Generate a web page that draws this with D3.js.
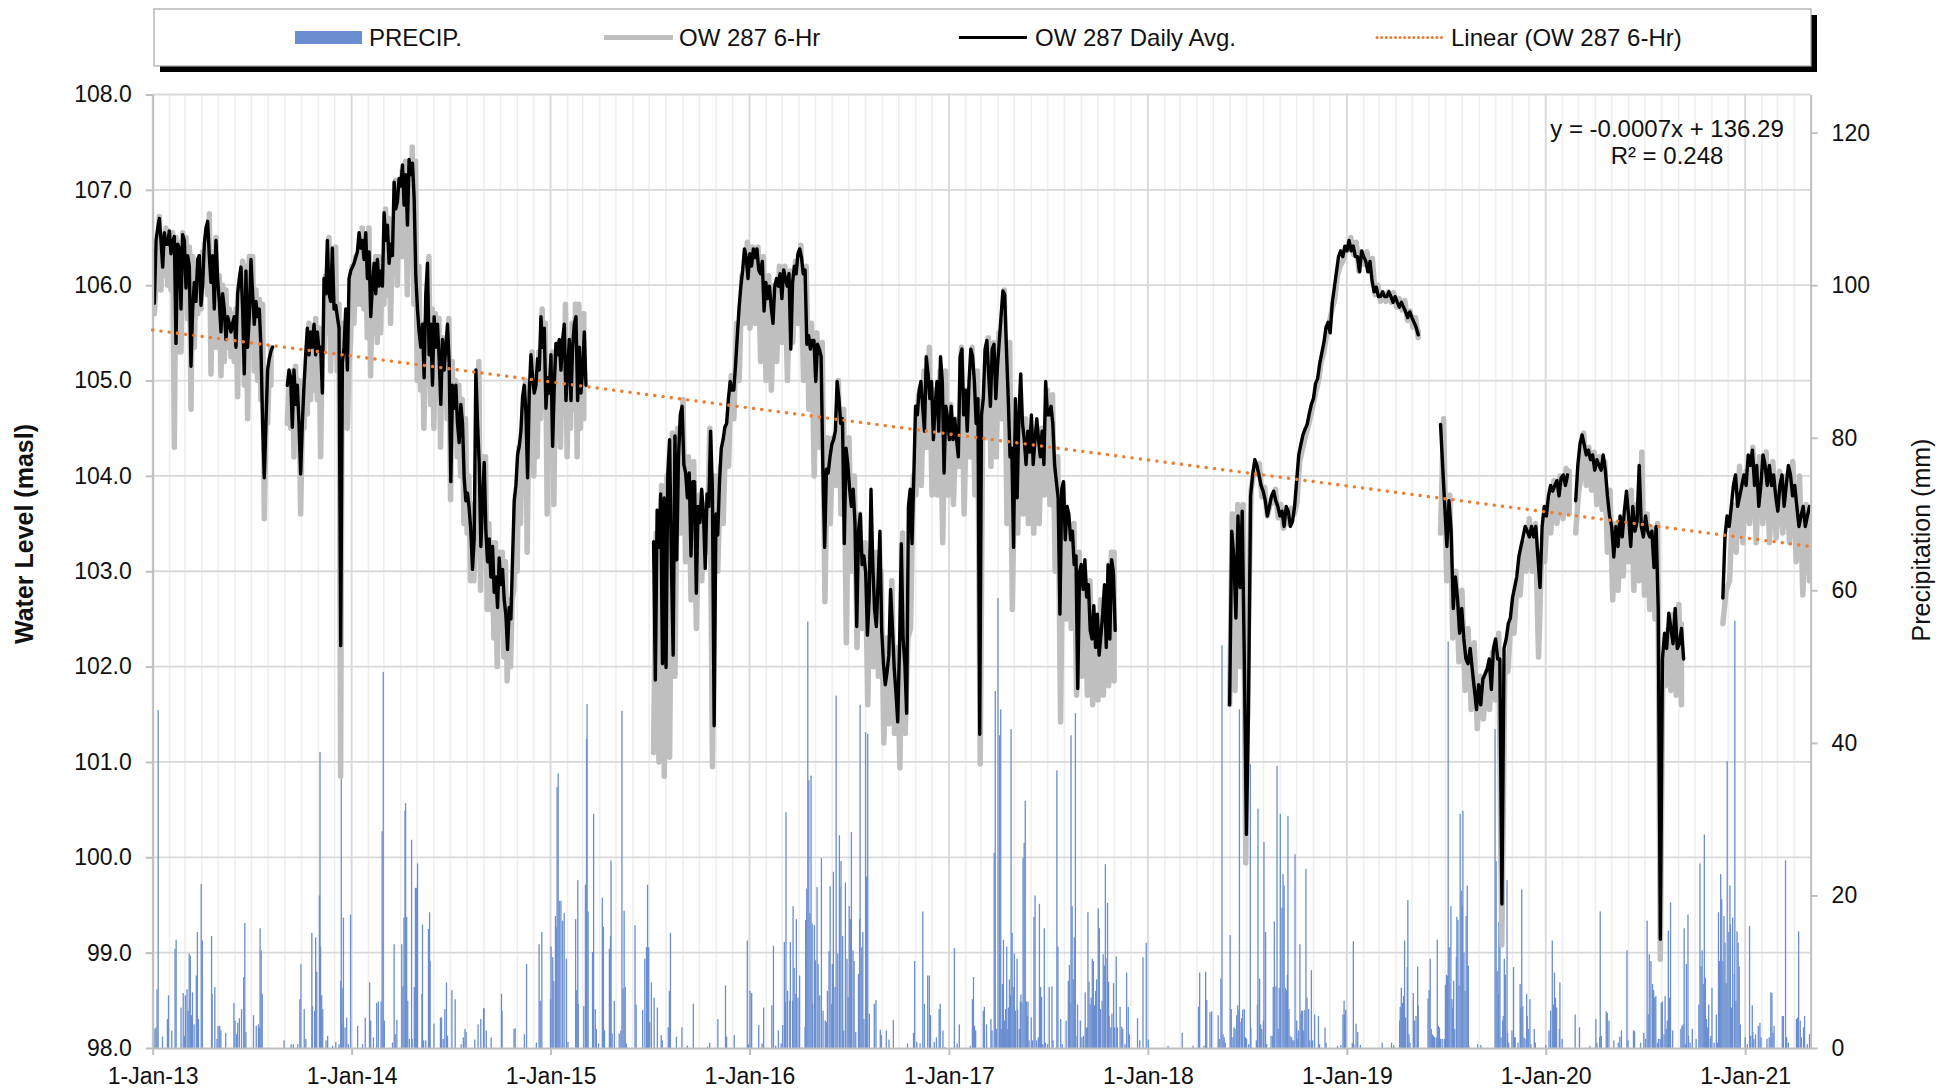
<!DOCTYPE html>
<html>
<head>
<meta charset="utf-8">
<script src="https://cdn.jsdelivr.net/npm/d3@7"></script>
<style>
  body { margin: 0; background: #fff; }
  svg text { font-family: "Liberation Sans", Arial, sans-serif; fill: #111; }
</style>
</head>
<body>
<svg id="chart" width="1950" height="1092"></svg>
<script>
// ---- data ----
// daily average segments: [first day, last day], values evenly spaced between
var daily_spans = [
   ["2013-01-04","2013-08-09"], ["2013-09-05","2015-03-07"], ["2015-07-09","2017-11-02"],
   ["2018-05-31","2019-05-12"], ["2019-06-22","2020-02-10"], ["2020-02-25","2020-09-10"],
   ["2020-11-21","2021-04-29"]
];
var daily_2013 = [105.81,106.47,106.6,106.7,106.47,106.19,106.55,106.43,106.43,106.57,106.33,106.45,106.51,105.39,106.43,106.39,105.75,106.53,106.47,105.97,
   106.31,106.2,105.15,105.75,106.03,105.83,106.27,106.31,105.79,106.0,106.43,106.6,106.67,106.31,106.03,106.31,105.75,106.47,106.07,105.83,
   105.51,105.91,105.75,105.43,105.67,105.6,105.51,105.6,105.67,105.35,105.91,106.07,106.19,105.75,105.07,106.15,105.35,105.67,106.27,105.91,
   105.59,105.83,105.67,105.75,105.35,104.55,103.98,104.55,105.11,105.23,105.31,105.35];
var daily_2013_15 = [104.95,105.11,105.03,104.51,105.11,104.75,104.95,104.55,104.02,104.55,104.95,105.27,105.55,105.27,105.51,105.35,105.59,105.27,105.51,105.31,
   105.35,104.87,106.07,105.91,106.47,105.91,105.83,106.39,105.75,105.79,105.67,105.55,102.22,105.19,105.35,105.75,105.11,106.07,106.15,106.19,
   106.23,106.29,106.35,106.55,106.39,106.47,106.27,106.55,106.07,106.35,105.67,105.99,106.23,105.91,106.27,105.99,106.15,105.99,106.76,106.47,
   106.63,106.23,106.43,106.31,107.08,106.80,106.88,107.12,107.04,107.26,106.84,107.16,106.63,107.32,107.16,107.28,106.92,106.10,105.75,105.51,
   105.35,105.59,105.03,105.91,106.23,105.27,105.59,
   104.95,105.67,105.35,105.59,105.23,104.75,105.43,105.11,105.35,105.59,105.19,103.94,104.95,104.71,104.95,104.55,104.35,104.75,104.55,103.98,
   103.74,103.82,103.66,103.42,103.02,103.34,105.11,104.55,104.14,103.26,103.74,104.14,103.42,103.10,103.34,102.94,103.26,102.78,102.94,102.62,
   103.14,102.86,103.02,102.70,102.54,102.18,102.62,102.50,103.14,103.74,103.90,104.22,104.31,104.47,104.83,104.95,104.67,103.98,104.87,105.27,
   105.03,104.87,104.95,105.23,105.11,105.67,105.35,105.55,104.71,105.03,104.87,105.27,104.31,104.95,105.39,105.27,105.43,105.11,105.43,105.59,
   104.79,105.11,105.43,104.79,105.35,105.59,105.67,104.79,105.35,104.87,105.11,105.51,104.95];
var daily_2015_17 = [103.31,101.86,103.64,103.25,103.81,102.03,103.77,101.99,104.03,104.38,103.07,102.12,104.42,103.12,104.20,104.64,104.73,104.12,104.03,103.77,
   104.03,103.16,103.94,103.94,102.77,103.68,103.51,103.86,103.60,103.03,103.81,103.68,104.47,103.86,101.38,103.60,103.38,103.94,104.29,104.38,
   104.51,104.55,104.81,104.99,104.90,104.90,105.16,105.47,105.77,105.99,106.16,106.38,106.29,106.07,106.33,106.20,106.38,106.29,106.38,106.16,
   106.12,106.25,105.73,106.03,105.86,105.99,105.77,105.60,105.99,106.07,105.99,106.12,105.86,106.16,106.07,105.99,106.12,105.33,106.03,106.20,
   106.12,106.33,106.38,106.29,106.12,106.16,105.38,105.47,105.33,105.42,105.42,104.99,105.38,105.33,105.25,104.07,103.25,104.07,104.03,104.20,
   104.33,104.38,104.47,104.99,104.81,104.55,104.60,103.29,104.29,104.12,103.86,103.68,103.86,103.51,102.42,103.42,103.60,103.07,103.16,102.99,
   102.33,102.73,103.86,103.07,102.60,102.42,102.90,103.42,102.38,102.03,101.81,101.94,102.12,102.81,102.42,101.99,101.73,101.42,102.20,103.29,
   102.29,102.03,101.51,103.68,103.86,103.29,103.99,104.73,104.64,104.90,104.99,104.73,104.47,105.25,105.07,104.81,104.99,104.38,104.73,104.99,
   104.47,105.25,104.99,104.03,104.73,104.60,104.38,104.73,104.38,104.60,104.38,104.20,105.25,105.33,104.64,104.90,104.47,104.99,105.33,105.25,
   104.99,104.55,104.81,101.29,104.64,104.81,105.33,105.42,105.07,104.73,105.33,105.38,104.81,105.16,105.42,105.68,105.94,105.90,105.33,104.81,
   104.20,104.29,103.25,104.81,103.77,104.64,105.07,104.55,104.38,104.12,104.47,104.25,104.64,104.12,104.38,104.60,104.38,104.20,104.47,104.12,
   104.99,104.64,104.64,104.73,104.55,104.12,103.94,103.77,102.55,103.86,103.94,103.33,103.68,103.60,103.33,103.42,103.07,103.16,101.77,102.99,
   103.07,102.81,103.12,102.73,102.86,102.38,102.29,102.64,102.20,102.55,102.12,102.33,102.55,102.86,102.20,103.07,102.29,103.12,102.99,102.38];
var daily_2018_19 = [101.60,103.42,103.15,102.51,103.58,102.83,103.63,102.08,100.24,101.55,103.79,104.01,104.17,104.11,104.01,103.90,103.84,103.74,103.58,103.68,
   103.79,103.84,103.74,103.68,103.58,103.63,103.47,103.68,103.63,103.47,103.52,103.68,103.95,104.22,104.33,104.43,104.49,104.54,104.65,104.75,
   104.81,104.97,105.02,105.18,105.29,105.40,105.56,105.61,105.50,105.82,105.98,106.14,106.30,106.36,106.30,106.41,106.36,106.47,106.36,106.41,
   106.30,106.30,106.14,106.36,106.30,106.25,106.14,106.25,106.04,105.93,105.98,105.88,105.88,105.93,105.88,105.88,105.93,105.88,105.82,105.88,
   105.82,105.77,105.82,105.77,105.72,105.66,105.72,105.66,105.61,105.56,105.48];
var daily_2019_20 = [104.54,104.10,103.68,103.26,103.74,103.42,102.61,102.94,102.72,102.35,102.61,102.29,102.08,102.03,102.19,101.97,101.76,101.55,101.81,101.60,
   101.87,101.92,101.97,102.08,101.76,102.19,102.29,102.08,102.08,99.51,102.19,102.29,102.45,102.51,102.72,102.83,102.94,103.15,103.26,103.36,
   103.47,103.42,103.36,103.47,103.36,103.47,103.15,102.83,103.47,103.68,103.58,103.79,103.90,103.84,103.90,103.95,103.79,103.98,104.01,103.90,104.01];
var daily_2020 = [103.74,104.11,104.33,104.43,104.33,104.22,104.27,104.17,104.22,104.06,104.17,104.11,104.06,104.22,104.06,103.79,103.58,103.47,103.15,103.47,
   103.26,103.58,103.36,103.63,103.84,103.58,103.26,103.68,103.42,103.52,104.11,103.47,103.36,103.58,103.42,103.36,103.42,103.04,103.47,102.61,
   99.14,102.08,102.35,102.19,102.56,102.40,102.24,102.61,102.19,102.24,102.40,102.08];
var daily_2020_21 = [102.72,103.36,103.58,103.47,103.68,103.90,104.01,103.68,103.79,103.90,104.01,103.90,104.22,104.11,104.27,103.90,104.11,103.68,103.90,104.22,
   104.11,103.90,104.11,103.90,104.01,103.79,103.63,103.90,104.01,103.68,103.90,104.11,104.01,103.79,103.90,103.68,103.47,103.58,103.68,103.47,103.58,103.68];

// 6-hr record: [high, low] envelope pairs, evenly spaced over each span
var hr6_spans = [
   ["2013-01-04","2013-08-06"], ["2013-09-05","2015-03-03"], ["2015-07-09","2017-10-31"],
   ["2018-05-31","2019-05-12"], ["2019-06-22","2020-02-13"], ["2020-02-25","2020-09-06"],
   ["2020-11-21","2021-04-29"]
];
var hr6_2013 = [[106.0,105.7],[106.72,106.0],[106.5,105.95],[106.6,106.1],[106.5,106.0],[106.55,105.95],[106.5,104.3],[106.45,105.3],[106.55,105.3],[106.5,105.9],
   [106.4,105.65],[106.3,104.7],[106.1,105.35],[106.3,105.7],[106.35,105.75],[106.5,106.0],[106.75,105.9],[106.35,105.07],[106.5,105.35],[106.1,105.35],
   [106.0,105.05],[105.95,105.2],[105.75,105.35],[105.7,105.25],[105.75,105.2],[106.0,104.83],[106.25,105.45],[106.2,104.95],[106.3,104.6],[106.3,105.5],
   [105.95,105.1],[105.85,105.0],[105.8,104.8],[104.6,103.55],[105.15,104.55],[105.35,104.95]];
var hr6_2013_15 = [[104.95,104.55],[105.1,104.5],[105.15,104.2],[105.0,104.4],[104.6,103.6],[105.0,104.5],[105.6,104.65],[105.55,104.8],[105.65,104.9],[105.55,104.8],
   [105.4,104.2],[106.1,105.3],[106.5,105.5],[105.9,105.1],[106.4,105.3],[105.8,105.1],[105.6,100.85],[105.4,104.7],[105.15,104.5],[106.2,105.4],
   [106.3,105.6],[106.4,105.8],[106.6,105.8],[106.5,105.75],[106.6,105.45],[106.1,105.05],[106.3,105.5],[106.3,105.4],[106.2,105.5],[106.8,105.8],
   [106.7,105.9],[106.5,105.6],[107.1,106.2],[106.9,106.0],[107.2,106.3],[107.3,106.3],[106.7,105.9],[107.45,106.3],[107.3,105.8],[106.2,105.0],
   [105.6,104.9],[105.5,104.5],[106.3,105.0],[105.75,104.75],[105.7,104.5],[105.65,104.8],[105.45,104.3],[105.45,104.75],[105.65,104.6],[105.2,103.75],
   [105.0,104.4],[104.95,104.2],[104.8,104.0],[104.6,103.5],[104.0,103.4],[103.7,102.9],[103.4,102.9],[105.2,104.0],[104.2,102.8],[104.2,103.3],
   [103.5,102.6],[103.3,102.6],[103.3,102.3],[103.2,102.0],[103.2,102.4],[103.1,102.1],[102.7,101.85],[102.7,102.0],[103.8,102.8],[104.3,103.0],
   [104.5,103.5],[105.0,104.0],[104.7,103.2],[105.3,104.2],[105.05,104.0],[105.3,104.2],[105.75,104.6],[105.6,104.7],[105.1,103.6],[105.3,104.3],
   [105.0,103.7],[105.4,104.5],[105.2,104.3],[105.8,104.65],[105.3,104.2],[105.6,104.5],[105.8,104.7],[105.8,104.2],[105.4,104.5],[105.7,104.6]];
var hr6_2015_17 = [[103.4,101.1],[103.9,101.0],[104.0,100.85],[104.45,101.05],[104.5,101.9],[104.8,103.4],[104.2,103.1],[104.15,102.7],[103.8,102.4],[103.7,102.9],
   [104.5,103.2],[104.0,100.95],[104.1,103.0],[104.5,103.5],[105.05,104.1],[105.6,104.6],[106.1,105.0],[106.45,105.6],[106.4,105.55],[106.4,105.6],
   [106.3,105.2],[106.1,105.0],[106.0,104.9],[106.2,105.2],[106.2,105.4],[106.15,105.0],[106.25,105.4],[106.42,105.6],[106.2,105.0],[105.6,104.7],
   [105.5,104.0],[105.4,104.3],[104.4,102.68],[104.4,103.5],[105.0,103.9],[104.7,103.6],[104.4,102.25],[104.0,103.0],[103.6,102.2],[103.3,102.4],
   [103.2,101.6],[103.2,102.0],[103.0,101.9],[102.3,101.2],[102.9,101.4],[102.2,101.3],[103.4,100.94],[102.3,101.3],[104.0,102.4],[104.85,103.8],
   [105.1,103.9],[105.35,104.3],[104.9,103.8],[105.1,103.8],[105.1,103.3],[104.75,103.8],[104.6,103.7],[105.35,104.1],[104.9,103.6],[105.35,104.2],
   [105.1,103.8],[104.8,100.98],[105.45,104.4],[105.4,104.1],[105.5,104.2],[105.95,104.6],[105.4,103.5],[104.4,102.6],[104.7,103.4],[104.6,103.6],
   [104.5,103.5],[104.45,103.4],[104.5,103.5],[104.9,103.8],[104.85,103.7],[104.2,103.0],[103.9,101.42],[103.5,102.5],[103.5,102.4],[103.2,101.7],
   [103.0,101.9],[102.9,101.7],[102.4,101.6],[102.7,101.65],[102.7,101.7],[103.2,101.8],[103.2,101.85]];
var hr6_2018_19 = [[103.6,101.6],[103.7,101.75],[103.7,102.0],[102.5,99.94],[104.05,103.85],[104.13,104.02],[103.88,103.78],[103.7,103.58],[103.86,103.72],[103.7,103.56],
   [103.6,103.45],[103.66,103.5],[103.72,103.6],[104.28,104.15],[104.5,104.4],[104.75,104.62],[105.0,104.88],[105.3,105.2],[105.6,105.48],[105.85,105.75],
   [106.2,106.1],[106.35,106.25],[106.5,106.38],[106.45,106.32],[106.35,106.15],[106.35,106.22],[106.28,106.15],[106.0,105.9],[105.92,105.83],[105.93,105.83],
   [105.92,105.82],[105.86,105.77],[105.84,105.74],[105.73,105.63],[105.66,105.56],[105.52,105.45]];
var hr6_2019_20 = [[104.6,103.4],[103.8,102.9],[103.0,102.3],[102.8,102.05],[102.4,101.75],[102.25,101.55],[101.9,101.35],[101.95,101.45],[102.15,101.55],[102.35,101.65],
   [102.0,99.08],[102.5,101.95],[102.9,102.35],[103.3,102.75],[103.55,103.0],[103.5,103.0],[103.2,102.1],[103.7,103.1],[103.95,103.4],[104.0,103.5],
   [104.08,103.55],[104.05,103.6]];
var hr6_2020 = [[103.8,103.4],[104.45,104.0],[104.3,103.9],[104.25,103.85],[104.2,103.7],[104.15,103.65],[103.85,103.2],[103.5,102.7],[103.35,102.8],[103.65,102.95],
   [103.85,103.1],[103.7,102.8],[104.25,102.9],[103.6,102.75],[103.45,102.6],[103.5,102.5],[102.1,98.93],[102.4,101.8],[102.55,101.75],[102.65,101.7],[102.45,101.6]];
var hr6_2020_21 = [[102.8,102.45],[103.7,102.9],[104.1,103.2],[104.05,103.3],[104.3,103.5],[104.2,103.3],[104.25,103.5],[104.15,103.3],[104.05,103.35],[104.0,103.4],
   [104.15,103.3],[104.0,103.1],[103.7,102.75],[103.65,102.9]];

// precipitation: [days after 1-Jan-13, mm]
var precip = [[4,2.5],[6,2.7],[8,7.7],[10,44.3],[18,1.5],[27,3.8],[29,6.9],[35,2.3],[41,13.0],[43,14.2],[52,5.3],[56,7.2],[58,1.6],[60,6.9],[63,7.7],[65,4.9],[67,12.4],[69,12.1],[71,4.3],[73,7.3],
   [76,3.1],[80,9.5],[82,15.2],[84,3.8],[89,21.5],[91,14.1],[108,14.7],[109,7.1],[114,8.0],[118,1.2],[120,2.9],[123,2.9],[125,2.3],[134,2.0],[149,5.9],[151,3.6],[154,1.8],[156,3.3],[159,3.9],[163,5.1],
   [167,9.3],[169,16.4],[171,2.1],[185,4.3],[190,2.9],[194,3.1],[196,2.6],[197,15.7],[199,12.8],[201,7.1],[241,1.0],[254,0.5],[258,0.5],[266,0.5],[270,6.4],[272,11.0],[278,5.1],[281,1.2],[292,15.1],[293,5.5],
   [297,4.9],[299,14.5],[301,10.0],[306,20.0],[307,38.8],[308,13.3],[310,6.9],[312,5.1],[318,1.0],[321,1.6],[330,0.3],[336,0.8],[342,0.5],[345,8.8],[346,35.7],[347,3.1],[349,7.9],[350,17.1],[353,2.7],[356,4.0],
   [359,0.5],[363,17.5],[376,2.9],[385,0.5],[390,4.0],[398,8.6],[400,3.6],[405,1.4],[411,5.9],[414,6.1],[419,6.1],[421,28.4],[423,49.3],[425,3.6],[440,0.7],[443,13.6],[445,1.8],[448,3.7],[457,13.6],[459,8.1],
   [461,17.1],[463,31.1],[464,32.1],[466,17.2],[468,6.2],[471,1.2],[475,27.3],[476,1.2],[480,8.0],[482,21.0],[484,21.0],[486,24.2],[494,7.1],[495,16.2],[497,1.0],[501,1.0],[506,15.6],[508,17.8],[509,11.4],[516,3.2],
   [528,4.0],[530,4.0],[533,1.2],[536,5.1],[539,8.6],[541,1.6],[549,7.6],[555,6.4],[566,0.5],[570,1.4],[573,2.5],[575,2.1],[591,1.1],[597,3.1],[602,3.8],[607,5.2],[608,5.2],[612,2.3],[621,1.4],[640,7.1],
   [641,4.9],[663,2.5],[665,2.6],[682,1.8],[686,11.0],[704,0.7],[709,13.6],[711,6.2],[714,15.2],[730,6.4],[731,13.3],[734,11.9],[736,8.8],[739,17.3],[741,15.8],[742,34.2],[744,36.0],[746,19.3],
   [749,19.3],[752,16.7],[755,17.7],[759,11.7],[762,0.8],[776,16.9],[778,7.6],[780,22.0],[781,5.8],[791,5.5],[794,21.4],[796,40.5],[797,45.1],[799,17.9],[807,12.6],[809,30.7],[812,5.1],[814,2.5],[818,0.6],[825,19.7],
   [827,15.9],[829,2.3],[838,13.0],[840,14.7],[841,24.6],[843,1.9],[847,6.2],[856,1.9],[859,2.3],[861,44.2],[863,7.8],[865,18.0],[867,8.0],[869,0.6],[885,16.1],[887,5.7],[899,5.0],[903,11.7],[906,13.2],[908,21.4],
   [910,13.2],[912,3.4],[915,8.6],[920,6.6],[926,5.3],[933,1.7],[935,1.0],[946,2.7],[948,7.5],[950,15.1],[961,1.5],[971,2.7],[981,0.3],[992,5.8],[1018,0.2],[1022,0.7],[1037,3.8],[1051,8.2],[1053,1.5],[1067,1.7],
   [1091,14.1],[1093,0.5],[1096,7.5],[1099,7.2],[1112,3.0],[1118,0.6],[1121,5.3],[1136,5.6],[1139,13.4],[1143,0.3],[1148,2.3],[1153,0.6],[1156,3.0],[1159,13.9],[1161,6.0],[1162,30.9],[1165,7.5],[1169,6.2],[1170,13.9],[1174,6.2],
   [1175,18.6],[1177,10.5],[1180,7.1],[1181,16.9],[1184,6.6],[1187,9.5],[1191,0.1],[1197,2.8],[1198,16.8],[1200,20.9],[1202,55.9],[1204,35.1],[1206,17.7],[1208,35.7],[1210,16.3],[1211,5.8],[1214,16.1],[1216,11.5],[1219,21.1],[1221,11.0],
   [1224,6.9],[1227,24.9],[1230,4.9],[1234,3.6],[1236,3.4],[1238,7.5],[1241,12.7],[1243,21.2],[1246,5.8],[1247,11.0],[1249,23.1],[1252,8.0],[1254,46.2],[1257,12.4],[1260,27.9],[1261,21.1],[1263,24.5],[1266,14.7],[1268,2.3],[1271,21.7],
   [1274,11.7],[1276,6.7],[1278,18.6],[1280,16.9],[1282,28.3],[1285,12.8],[1287,11.4],[1290,2.1],[1295,9.7],[1297,16.9],[1298,45.0],[1301,13.2],[1303,15.2],[1305,3.8],[1308,41.4],[1310,22.5],[1312,41.2],[1315,4.5],[1324,5.8],[1327,6.3],
   [1335,2.4],[1337,1.7],[1346,2.3],[1351,1.1],[1359,3.7],[1385,0.6],[1396,2.0],[1398,11.4],[1402,0.8],[1408,0.6],[1413,17.9],[1416,5.8],[1422,9.5],[1425,9.5],[1427,4.3],[1434,0.8],[1438,1.4],[1443,5.1],[1445,5.8],[1450,2.3],
   [1453,0.1],[1471,13.1],[1476,0.6],[1480,3.1],[1500,0.3],
   [1504,6.4],[1506,9.3],[1508,2.9],[1510,2.3],[1524,4.9],[1526,5.4],[1530,3.1],[1538,3.8],[1540,2.3],[1544,25.6],[1546,46.8],[1548,2.5],[1551,59.0],[1554,41.0],[1556,44.4],[1557,2.5],[1559,8.4],[1561,14.2],[1563,3.6],[1565,5.1],
   [1567,13.3],[1568,2.5],[1570,5.3],[1572,9.0],[1574,6.9],[1575,41.8],[1577,15.1],[1579,8.0],[1581,12.4],[1583,4.9],[1586,11.7],[1587,5.0],[1590,2.5],[1592,6.1],[1593,7.0],[1595,6.0],[1597,24.9],[1599,26.9],[1601,32.4],[1603,6.1],
   [1605,4.2],[1606,6.1],[1608,1.0],[1612,4.0],[1614,1.0],[1617,17.2],[1619,20.0],[1622,1.0],[1625,1.4],[1627,18.9],[1629,8.0],[1631,6.7],[1633,0.5],[1636,15.7],[1638,0.7],[1642,0.5],[1645,8.0],[1650,8.1],[1652,1.0],[1659,36.4],
   [1661,13.3],[1666,3.8],[1669,0.5],[1676,3.6],[1680,8.8],[1682,10.9],[1683,5.9],[1685,41.0],[1687,18.6],[1689,9.0],[1691,14.5],[1693,43.9],[1694,1.6],[1697,5.7],[1702,3.6],[1705,1.4],[1708,1.6],[1711,7.3],[1713,2.7],[1715,2.7],
   [1716,17.8],[1718,8.7],[1720,5.7],[1722,6.6],[1724,11.7],[1726,11.4],[1728,5.6],[1730,7.5],[1732,9.0],[1735,18.3],[1737,15.7],[1739,5.1],[1742,6.2],[1744,12.3],[1746,10.8],[1748,24.1],[1749,11.8],[1752,19.0],[1754,8.7],[1755,4.2],
   [1758,2.7],[1760,4.5],[1763,8.5],[1765,2.7],[1768,12.0],[1770,2.7],[1775,5.4],[1778,2.8],[1780,2.5],[1784,0.5],[1787,9.9],[1790,5.4],[1792,1.8],[1807,3.9],[1811,1.0],[1817,11.9],[1823,13.8],[1827,1.1],[1863,0.3],[1889,2.0],
   [1909,0.3],[1919,5.4],[1921,9.9],[1929,0.3],[1932,10.0],[1934,6.3],[1940,4.7],[1943,4.8],[1955,4.3],[1957,1.2],[1960,9.1],[1962,52.8],[1964,1.8],[1966,1.4],[1968,0.7],[1977,14.8],[1979,5.1],[1982,1.4],[1984,2.7],[1986,2.5],
   [1989,4.3],[1991,5.6],[1993,5.0],[1994,44.4],[1995,3.4],[1998,3.9],[2000,5.0],[2003,5.1],[2005,1.4],[2007,1.2],[2011,0.5],[2014,37.2],[2015,2.7],[2025,1.0],[2027,5.7],[2028,31.4],[2031,9.1],[2033,3.1],[2035,2.5],[2038,3.6],
   [2039,27.0],[2042,15.2],[2044,0.5],[2052,1.6],[2055,1.6],[2056,8.0],[2058,16.6],[2061,8.1],[2063,37.0],[2065,2.5],[2067,7.9],[2069,30.7],[2072,18.4],[2074,22.8],[2076,21.3],[2078,7.9],[2080,7.6],[2082,9.6],[2083,30.4],[2085,5.1],
   [2087,1.6],[2090,1.4],[2092,1.0],[2094,1.0],[2096,25.4],[2099,3.6],[2100,1.2],[2102,2.3],[2105,13.6],[2107,4.4],[2108,4.9],[2110,4.9],[2112,2.3],[2114,5.0],[2116,23.5],[2118,6.6],[2121,5.1],[2123,1.0],[2126,10.2],[2128,1.0],
   [2132,4.4],[2139,4.2],[2141,0.5],[2151,2.7],[2153,0.7],[2174,0.3],[2180,0.4],[2184,4.4],[2186,6.2],[2187,4.4],[2189,5.0],[2201,0.7],[2203,14.0],[2204,0.5],[2208,3.2],[2211,2.1],[2216,0.4],
   [2256,0.7],[2273,0.7],[2277,0.4],[2288,3.6],[2289,5.4],[2291,7.9],[2293,5.9],[2295,6.8],[2297,14.1],[2299,4.0],[2302,10.6],[2303,19.4],[2305,1.8],[2307,0.7],[2313,7.2],[2315,3.6],[2318,4.2],[2321,10.7],[2322,5.6],[2340,6.5],
   [2342,7.6],[2344,11.7],[2346,2.5],[2348,1.8],[2350,1.6],[2352,1.4],[2355,1.4],[2357,14.2],[2359,2.9],[2361,2.7],[2363,1.2],[2366,1.2],[2370,1.2],[2372,8.3],[2374,9.6],[2376,9.4],[2377,53.3],[2379,13.2],[2382,18.6],[2384,6.4],
   [2385,5.3],[2387,8.8],[2389,2.5],[2392,11.9],[2393,17.2],[2395,16.8],[2397,8.2],[2399,30.7],[2401,20.6],[2403,18.6],[2404,31.1],[2406,12.5],[2408,7.5],[2410,17.3],[2412,21.3],[2414,10.8],[2415,0.3],[2431,0.5],[2437,0.4],[2463,41.8],
   [2465,24.5],[2467,10.1],[2469,7.1],[2470,16.5],[2472,15.7],[2474,1.4],[2477,3.6],[2478,4.2],[2480,11.7],[2482,9.6],[2485,22.0],[2486,2.0],[2488,0.7],[2494,2.3],[2497,10.6],[2499,1.4],[2500,1.4],[2505,0.7],[2509,8.4],[2510,5.3],
   [2512,20.8],[2514,5.5],[2516,1.4],[2518,1.2],[2521,7.1],[2522,4.2],[2524,2.5],[2527,6.4],[2529,0.5],[2535,2.5],[2537,0.7],[2556,0.4],[2562,2.3],[2565,4.9],[2568,14.1],[2570,5.7],[2572,9.9],[2574,6.6],[2576,5.3],[2581,2.5],
   [2582,8.6],[2586,1.2],[2610,4.4],[2618,2.7],[2637,0.3],[2648,3.8],[2650,0.7],[2655,1.4],[2656,17.9],[2658,1.6],[2667,4.8],[2669,4.6],[2672,3.6],[2681,1.0],[2689,0.7],[2692,1.5],[2695,2.3],[2705,12.8],[2707,1.0],[2717,2.3],
   [2719,2.2],[2730,0.7],[2736,2.0],[2739,1.2],[2742,16.7],[2744,4.4],[2746,12.3],[2749,11.4],[2752,8.4],[2754,7.6],[2756,6.6],[2758,6.8],[2761,0.7],[2763,1.2],[2766,1.2],[2768,5.9],[2770,6.1],[2773,1.8],[2775,6.8],[2777,2.5],
   [2779,3.6],[2781,15.4],[2783,6.6],[2785,19.1],[2789,2.3],[2804,2.5],[2806,2.9],[2808,3.1],[2810,15.7],[2812,0.5],[2814,11.0],[2817,17.5],[2818,1.6],[2821,0.7],[2825,2.5],[2832,1.2],[2837,5.7],[2839,24.2],[2841,10.7],[2843,12.8],
   [2845,8.4],[2847,28.0],[2849,9.2],[2851,3.8],[2853,2.7],[2855,5.7],[2858,1.2],[2859,1.6],[2861,7.9],[2865,0.7],[2869,4.4],[2871,0.7],[2873,17.8],[2875,11.4],[2877,22.8],[2879,19.5],[2881,11.4],[2883,17.3],[2885,13.8],[2887,8.5],
   [2889,37.6],[2892,15.2],[2894,21.3],[2895,16.2],[2897,5.3],[2899,17.1],[2902,9.7],[2903,56.0],[2905,6.2],[2907,15.3],[2909,13.8],[2911,10.7],[2913,3.1],[2922,1.4],[2926,0.5],[2930,16.0],[2932,1.6],[2935,5.6],[2936,2.1],[2938,1.2],
   [2941,1.8],[2946,2.9],[2949,3.3],[2951,1.4],[2962,1.2],[2966,1.4],[2969,7.3],[2971,7.2],[2973,2.0],[2975,2.9],[2990,4.2],[2992,4.2],[2996,24.6],[2998,1.4],[3001,0.7],[3016,3.8],[3018,4.0],[3020,15.3],[3023,3.6],[3025,1.4],
   [3029,2.7],[3031,4.2],[3036,0.5],[3040,1.8]];

// linear trend of the 6-hr record, value at each end of the axis
var trend_ends = [105.53, 103.26];
var trend_label = ["y = -0.0007x + 136.29", "R\u00b2 = 0.248"];
var legend_labels = ["PRECIP.", "OW 287 6-Hr", "OW 287 Daily Avg.", "Linear (OW 287 6-Hr)"];

// ---- drawing ----
var plot = { left: 152.7, right: 1810.6, top: 94.5, bottom: 1048 };
var parse = d3.timeParse("%Y-%m-%d");
var day0 = new Date(2013, 0, 1);
var axis_start = new Date(2013, 0, 1), axis_end = new Date(2021, 4, 1);

var x = d3.scaleTime().domain([axis_start, axis_end]).range([plot.left, plot.right]);
var y = d3.scaleLinear().domain([98, 108]).range([plot.bottom, plot.top]);
var y2 = d3.scaleLinear().domain([0, 125]).range([plot.bottom, plot.top]);

var svg = d3.select("#chart");
svg.append("defs").append("clipPath").attr("id", "plotclip")
   .append("rect").attr("x", plot.left).attr("y", plot.top)
   .attr("width", plot.right - plot.left).attr("height", plot.bottom - plot.top);

// gridlines
var grid = svg.append("g");
grid.selectAll("line.minor").data(d3.timeMonth.range(axis_start, axis_end))
   .enter().append("line").attr("class", "minor")
   .attr("x1", function(d) { return x(d); }).attr("x2", function(d) { return x(d); })
   .attr("y1", plot.top).attr("y2", plot.bottom)
   .attr("stroke", "#efefef").attr("stroke-width", 1.6);
grid.selectAll("line.major").data(d3.timeYear.range(axis_start, axis_end))
   .enter().append("line").attr("class", "major")
   .attr("x1", function(d) { return x(d); }).attr("x2", function(d) { return x(d); })
   .attr("y1", plot.top).attr("y2", plot.bottom)
   .attr("stroke", "#d9d9d9").attr("stroke-width", 1.8);
grid.selectAll("line.hz").data(d3.range(99, 108.5, 1))
   .enter().append("line").attr("class", "hz")
   .attr("x1", plot.left).attr("x2", plot.right)
   .attr("y1", function(d) { return y(d); }).attr("y2", function(d) { return y(d); })
   .attr("stroke", "#d9d9d9").attr("stroke-width", 1.8);

// precipitation bars
svg.append("g").attr("clip-path", "url(#plotclip)")
   .selectAll("rect").data(precip).enter().append("rect")
   .attr("x", function(d) { return x(d3.timeDay.offset(day0, d[0])) - 0.65; })
   .attr("width", 1.3)
   .attr("y", function(d) { return y2(d[1]); })
   .attr("height", function(d) { return y2(0) - y2(d[1]); })
   .attr("fill", "#6a8ed0");

function even_points(span, vals) {
   var t0 = +parse(span[0]), t1 = +parse(span[1]);
   var step = (t1 - t0) / (vals.length - 1);
   return vals.map(function(v, j) { return [new Date(t0 + j * step), v]; });
}
function zigzag_points(span, pairs) {
   var t0 = +parse(span[0]), t1 = +parse(span[1]);
   var step = (t1 - t0) / (pairs.length - 1);
   var pts = [];
   pairs.forEach(function(p, j) {
      pts.push([new Date(t0 + j * step), p[1]]);
      pts.push([new Date(t0 + (j + (j < pairs.length - 1 ? 0.5 : 0)) * step), p[0]]);
   });
   return pts;
}

var line = d3.line().x(function(d) { return x(d[0]); }).y(function(d) { return y(d[1]); });
var hr6_segs = [hr6_2013, hr6_2013_15, hr6_2015_17, hr6_2018_19, hr6_2019_20, hr6_2020, hr6_2020_21];
var daily_segs = [daily_2013, daily_2013_15, daily_2015_17, daily_2018_19, daily_2019_20, daily_2020, daily_2020_21];

var lines = svg.append("g").attr("clip-path", "url(#plotclip)");
hr6_segs.forEach(function(seg, i) {
   lines.append("path").attr("d", line(zigzag_points(hr6_spans[i], seg)))
      .attr("fill", "none").attr("stroke", "#bfbfbf").attr("stroke-width", 5.5)
      .attr("stroke-linejoin", "round").attr("stroke-linecap", "round");
});
daily_segs.forEach(function(seg, i) {
   lines.append("path").attr("d", line(even_points(daily_spans[i], seg)))
      .attr("fill", "none").attr("stroke", "#000").attr("stroke-width", 3.4)
      .attr("stroke-linejoin", "round").attr("stroke-linecap", "round");
});

// axes
var ax_left = svg.append("g").attr("transform", "translate(" + plot.left + ",0)")
   .call(d3.axisLeft(y).tickValues(d3.range(98, 108.5, 1)).tickFormat(d3.format(".1f"))
      .tickSize(7).tickSizeOuter(0).tickPadding(14));
var ax_right = svg.append("g").attr("transform", "translate(" + plot.right + ",0)")
   .call(d3.axisRight(y2).tickValues(d3.range(0, 121, 20)).tickSize(7).tickSizeOuter(0).tickPadding(14));
var ax_bottom = svg.append("g").attr("transform", "translate(0," + plot.bottom + ")")
   .call(d3.axisBottom(x).ticks(d3.timeYear.every(1)).tickFormat(d3.timeFormat("%-d-%b-%y"))
      .tickSize(7).tickSizeOuter(0).tickPadding(13));
[ax_left, ax_right, ax_bottom].forEach(function(a) {
   a.select(".domain").attr("stroke", "#bfbfbf").attr("stroke-width", 2);
   a.selectAll(".tick line").attr("stroke", "#bfbfbf").attr("stroke-width", 2);
   a.selectAll(".tick text").attr("font-size", 23).attr("font-family", "Liberation Sans, Arial, sans-serif").attr("fill", "#111");
});

// trendline
svg.append("line")
   .attr("x1", x(axis_start)).attr("y1", y(trend_ends[0]))
   .attr("x2", x(axis_end)).attr("y2", y(trend_ends[1]))
   .attr("stroke", "#ed7d31").attr("stroke-width", 3.4)
   .attr("stroke-dasharray", "0.1 8.2").attr("stroke-linecap", "round");

svg.append("text").attr("x", 1667).attr("y", 137).attr("text-anchor", "middle")
   .attr("font-size", 24).text(trend_label[0]);
svg.append("text").attr("x", 1667).attr("y", 164).attr("text-anchor", "middle")
   .attr("font-size", 24).text(trend_label[1]);

// axis titles
svg.append("text").attr("transform", "translate(33,534) rotate(-90)").attr("text-anchor", "middle")
   .attr("font-size", 25).attr("font-weight", "bold").text("Water Level (masl)");
svg.append("text").attr("transform", "translate(1930,540) rotate(-90)").attr("text-anchor", "middle")
   .attr("font-size", 25).text("Precipitation (mm)");

// legend
var leg = svg.append("g");
leg.append("rect").attr("x", 160).attr("y", 15).attr("width", 1657).attr("height", 57).attr("fill", "#000");
leg.append("rect").attr("x", 154).attr("y", 9).attr("width", 1657).attr("height", 57)
   .attr("fill", "#fff").attr("stroke", "#a6a6a6").attr("stroke-width", 1.2);
var ly = 37.5;
leg.append("rect").attr("x", 295).attr("y", ly - 6.5).attr("width", 67).attr("height", 13).attr("fill", "#6a8ed0");
leg.append("line").attr("x1", 604).attr("x2", 673).attr("y1", ly).attr("y2", ly)
   .attr("stroke", "#bfbfbf").attr("stroke-width", 5);
leg.append("line").attr("x1", 959).attr("x2", 1027).attr("y1", ly).attr("y2", ly)
   .attr("stroke", "#000").attr("stroke-width", 3);
leg.append("line").attr("x1", 1377).attr("x2", 1445).attr("y1", ly).attr("y2", ly)
   .attr("stroke", "#ed7d31").attr("stroke-width", 3).attr("stroke-dasharray", "0.1 4.5").attr("stroke-linecap", "round");
var leg_x = [369, 679, 1035, 1451];
legend_labels.forEach(function(t, i) {
   leg.append("text").attr("x", leg_x[i]).attr("y", ly + 8.6).attr("font-size", 24).text(t);
});
</script>
</body>
</html>
